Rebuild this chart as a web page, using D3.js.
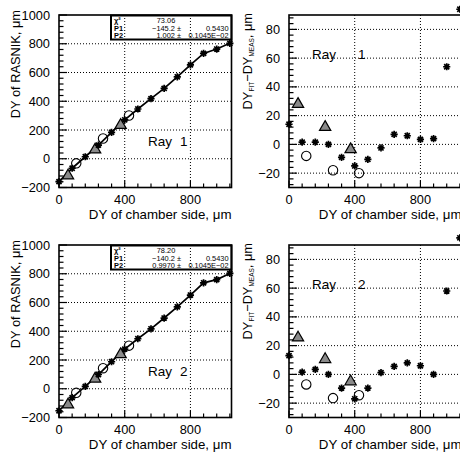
<!DOCTYPE html>
<html><head><meta charset="utf-8">
<script src="https://cdn.jsdelivr.net/npm/d3@7"></script>
<style>body{margin:0;background:#fff}</style>
</head><body><svg id="c" width="460" height="452"></svg>
<script>
// ---- data ----
const xStars = [0,80,160,240,320,400,480,560,640,720,800,880,960,1040];
const xCircles = [105,268,426];
const xTriangles = [55,220,375];

const ray1StarMeas = [-159,-66,14,95,184,271,346,418,489,570,653,733,763,803];
const ray1StarRes  = [14,1.5,1.5,0,-9,-15,-10.5,-2.5,7,6,3.5,4,54,94];
const ray1CircleMeas = [-32,141,301];
const ray1CircleRes  = [-8,-18,-20];
const ray1TriMeas = [-118,63,234];
const ray1TriRes  = [28,12,-3.5];

const ray2StarMeas = [-153,-62,16,99,188,276,348,417,492,570,652,737,759,802];
const ray2StarRes  = [13,1.5,3.5,0,-9.5,-17,-9.5,1.2,5.5,8,6,0,58,95];
const ray2CircleMeas = [-28,143,300];
const ray2CircleRes  = [-7,-16.5,-14.5];
const ray2TriMeas = [-111,69,239];
const ray2TriRes  = [25.5,10.5,-5];

const statLabels = ["\u03c7\u00b2","P1","P2"];
const ray1StatVals = ["73.06","\u2212145.2 \u00b1","1.002 \u00b1"];
const ray1StatErrs = ["","0.5430","0.1045E\u221202"];
const ray2StatVals = ["78.20","\u2212140.2 \u00b1","0.9970 \u00b1"];
const ray2StatErrs = ["","0.5430","0.1045E\u221202"];

const xTickLabels = [0,400,800];
const leftYTickLabels = [-200,0,200,400,600,800,1000];
const rightYTickLabels = [-20,0,20,40,60,80];

// ---- layout ----
const svg = d3.select("#c");
const FONT = "'Liberation Sans', Arial, Helvetica, sans-serif";
const W = 172.5, H = 172.5;
const xDomain = [0,1050];

function starPath(s){
  const a = s*0.7071;
  return `M${-s},0L${s},0M0,${-s}L0,${s}M${-a},${-a}L${a},${a}M${-a},${a}L${a},${-a}`;
}

function panel(ox, oy, cfg){
  const g = svg.append("g").attr("transform",`translate(${ox},${oy})`);
  const x = d3.scaleLinear().domain(xDomain).range([0,W]);
  const y = d3.scaleLinear().domain(cfg.yDomain).range([H,0]);

  // grid
  g.selectAll(".gx").data(xTickLabels.filter(v=>v>0)).join("line")
    .attr("x1",d=>x(d)).attr("x2",d=>x(d)).attr("y1",0).attr("y2",H)
    .attr("stroke","#000").attr("stroke-width",1).attr("stroke-dasharray","1,2");
  g.selectAll(".gy").data(cfg.yLabels.filter(v=>v>cfg.yDomain[0]&&v<cfg.yDomain[1])).join("line")
    .attr("y1",d=>y(d)).attr("y2",d=>y(d)).attr("x1",0).attr("x2",W)
    .attr("stroke","#000").attr("stroke-width",1).attr("stroke-dasharray","1,2");

  // ticks
  const yMinor = d3.range(Math.ceil(cfg.yDomain[0]/cfg.yMinor)*cfg.yMinor, cfg.yDomain[1]+1e-6, cfg.yMinor);
  g.selectAll(".ty").data(yMinor).join("line")
    .attr("x1",0).attr("x2",d=>cfg.yLabels.some(v=>Math.abs(v-d)<1e-6)?8:4.5)
    .attr("y1",d=>y(d)).attr("y2",d=>y(d)).attr("stroke","#000").attr("stroke-width",1.2);
  const xMinor = d3.range(0, xDomain[1]+1e-6, 80);
  g.selectAll(".tx").data(xMinor).join("line")
    .attr("y1",H).attr("y2",d=>H-(d%400===0?7:4))
    .attr("x1",d=>x(d)).attr("x2",d=>x(d)).attr("stroke","#000").attr("stroke-width",1.2);

  // tick labels
  g.selectAll(".lx").data(xTickLabels).join("text")
    .attr("x",d=>x(d)).attr("y",H+16).attr("text-anchor","middle")
    .attr("font-family",FONT).attr("font-size",12.8).text(d=>d);
  g.selectAll(".ly").data(cfg.yLabels).join("text")
    .attr("x",-9).attr("y",d=>y(d)).attr("dy","0.36em").attr("text-anchor","end")
    .attr("font-family",FONT).attr("font-size",12.8).text(d=>d<0?"\u2212"+(-d):d);

  // frame
  g.append("rect").attr("x",0).attr("y",0).attr("width",W).attr("height",H)
    .attr("fill","none").attr("stroke","#000").attr("stroke-width",1.6);

  // x title
  g.append("text").attr("x",W).attr("y",H+31).attr("text-anchor","end")
    .attr("font-family",FONT).attr("font-size",13.3).text("DY of chamber side, \u03bcm");

  // line through stars
  if(cfg.line){
    g.append("path").datum(d3.zip(xStars,cfg.stars))
      .attr("d",d3.line().x(d=>x(d[0])).y(d=>y(d[1])))
      .attr("fill","none").attr("stroke","#000").attr("stroke-width",1.7);
  }
  // triangles
  const tri = d3.symbol().type(d3.symbolTriangle).size(55);
  g.selectAll(".tri").data(d3.zip(xTriangles,cfg.tris)).join("path")
    .attr("transform",d=>`translate(${x(d[0])},${y(d[1])})`).attr("d",tri)
    .attr("fill","#8a8a8a").attr("stroke","#000").attr("stroke-width",1.2);
  // circles
  g.selectAll(".cir").data(d3.zip(xCircles,cfg.circles)).join("circle")
    .attr("cx",d=>x(d[0])).attr("cy",d=>y(d[1])).attr("r",4.7)
    .attr("fill","none").attr("stroke","#000").attr("stroke-width",1.1);
  // stars
  g.selectAll(".star").data(d3.zip(xStars,cfg.stars)).join("path")
    .attr("transform",d=>`translate(${x(d[0])},${y(d[1])})`).attr("d",starPath(3.6))
    .attr("fill","none").attr("stroke","#000").attr("stroke-width",1.7);

  // ray label
  const rl = g.append("text").attr("font-family",FONT).attr("font-size",13.5);
  rl.append("tspan").attr("x",cfg.rayX[0]).attr("y",cfg.rayY).text("Ray");
  rl.append("tspan").attr("x",cfg.rayX[1]).attr("y",cfg.rayY).text(cfg.rayNum);
  return g;
}

function leftPanel(ox, oy, stars, circles, tris, vals, errs, num){
  const g = panel(ox, oy, {yDomain:[-200,1000], yMinor:40, yLabels:leftYTickLabels,
    stars, circles, tris, line:true, rayX:[89,121], rayY:131, rayNum:num});
  // y title
  g.append("text").attr("transform","translate(-39,-5) rotate(-90)").attr("text-anchor","end")
    .attr("font-family",FONT).attr("font-size",12.8).text("DY of RASNIK, \u03bcm");
  // stat box
  const bx = 52, bw = W-52, bh = 24;
  g.append("rect").attr("x",bx).attr("y",0.5).attr("width",bw).attr("height",bh)
    .attr("fill","none").attr("stroke","#000").attr("stroke-width",2);
  const rows = [5.5,13,20.5];
  statLabels.forEach((s,i)=>{
    g.append("text").attr("x",bx+3).attr("y",rows[i]+2.6).attr("font-family",FONT)
      .attr("font-size",7.4).attr("font-weight","bold").text(s);
    g.append("text").attr("x",i===0?107:122).attr("y",rows[i]+2.6).attr("font-family",FONT)
      .attr("text-anchor",i===0?"middle":"end")
      .attr("font-size",7.4).text(vals[i]);
    if(errs[i]) g.append("text").attr("x",W-3).attr("y",rows[i]+2.6).attr("font-family",FONT)
      .attr("text-anchor","end").attr("font-size",7.4).text(errs[i]);
  });
}

function rightPanel(ox, oy, stars, circles, tris, num){
  const g = panel(ox, oy, {yDomain:[-30,90], yMinor:4, yLabels:rightYTickLabels,
    stars, circles, tris, line:false, rayX:[23,69], rayY:44, rayNum:num});
  const t = g.append("text").attr("transform","translate(-37,-2) rotate(-90)").attr("text-anchor","end")
    .attr("font-family",FONT).attr("font-size",12.8);
  t.append("tspan").text("DY");
  t.append("tspan").attr("font-size",6.5).attr("dy",2).text("FIT");
  t.append("tspan").attr("dy",-2).text("\u2212DY");
  t.append("tspan").attr("font-size",6.5).attr("dy",2).text("MEAS");
  t.append("tspan").attr("dy",-2).text(", \u03bcm");
}

leftPanel(59,15,ray1StarMeas,ray1CircleMeas,ray1TriMeas,ray1StatVals,ray1StatErrs,"1");
rightPanel(289,15,ray1StarRes,ray1CircleRes,ray1TriRes,"1");
leftPanel(59,245,ray2StarMeas,ray2CircleMeas,ray2TriMeas,ray2StatVals,ray2StatErrs,"2");
rightPanel(289,245,ray2StarRes,ray2CircleRes,ray2TriRes,"2");
</script></body></html>
